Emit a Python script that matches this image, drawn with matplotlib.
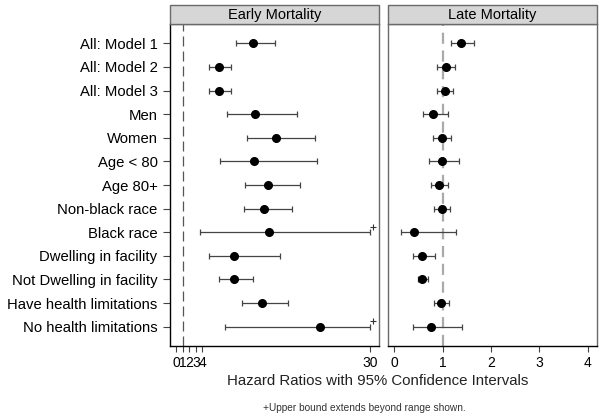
import matplotlib
matplotlib.use("Agg")
import matplotlib.pyplot as plt
from matplotlib.patches import Rectangle

plt.rcParams['font.family'] = ['Liberation Sans', 'DejaVu Sans']

labels = ["All: Model 1", "All: Model 2", "All: Model 3", "Men", "Women",
          "Age < 80", "Age 80+", "Non-black race", "Black race",
          "Dwelling in facility", "Not Dwelling in facility",
          "Have health limitations", "No health limitations"]

early_hr = [11.8, 6.6, 6.6, 12.1, 15.4, 12.0, 14.2, 13.6, 14.4, 8.9, 8.9, 13.2, 22.2]
early_lo = [9.2, 5.1, 5.0, 7.8, 11.0, 6.7, 10.6, 10.4, 3.6, 5.0, 6.6, 10.1, 7.6]
early_hi = [15.3, 8.4, 8.4, 18.7, 21.5, 21.8, 19.2, 17.9, 30.0, 16.1, 11.9, 17.3, 30.0]
early_trunc = [False, False, False, False, False, False, False, False, True,
               False, False, False, True]

late_hr = [1.38, 1.06, 1.04, 0.81, 0.98, 0.98, 0.92, 0.98, 0.40, 0.58, 0.58, 0.97, 0.75]
late_lo = [1.18, 0.89, 0.88, 0.60, 0.81, 0.72, 0.76, 0.82, 0.14, 0.39, 0.50, 0.82, 0.39]
late_hi = [1.64, 1.25, 1.21, 1.11, 1.17, 1.34, 1.12, 1.15, 1.27, 0.85, 0.69, 1.13, 1.40]

early_ticks = [0, 1, 2, 3, 4, 30]
late_ticks = [0, 1, 2, 3, 4]

W, H = 604, 418
fig = plt.figure(figsize=(W / 100, H / 100), dpi=100)

top_px, bot_px = 24, 346
axL = fig.add_axes([170 / W, 1 - bot_px / H, (379 - 170) / W, (bot_px - top_px) / H])
axR = fig.add_axes([388 / W, 1 - bot_px / H, (597 - 388) / W, (bot_px - top_px) / H])

n = len(labels)
ypos = list(range(n))
frame = '#6a6a6a'

def draw(ax, hr, lo, hi, title, xlim, ticks, ref_style):
    xerr = [[h - l for h, l in zip(hr, lo)], [u - h for h, u in zip(hr, hi)]]
    ax.axvline(1, **ref_style, zorder=1)
    ax.errorbar(hr, ypos, xerr=xerr, fmt='o', color='black', ms=5.5,
                ecolor='#444444', elinewidth=0.9, capsize=2.0, capthick=0.9, zorder=3)
    ax.set_xlim(*xlim)
    ax.set_ylim(n - 1 + 0.82, -0.82)
    ax.set_xticks(ticks)
    ax.set_xticklabels([str(t) for t in ticks], fontsize=10)
    for s in ['top', 'right', 'left']:
        ax.spines[s].set_color(frame)
        ax.spines[s].set_linewidth(1.0)
    ax.spines['bottom'].set_color('black')
    ax.spines['bottom'].set_linewidth(1.0)
    ax.tick_params(axis='x', length=4, width=0.8, color='#444444', pad=3)
    hdr_h = 19 / (bot_px - top_px)
    ax.add_patch(Rectangle((0, 1), 1, hdr_h, transform=ax.transAxes,
                           facecolor='#d6d6d6', edgecolor=frame, lw=1.0,
                           clip_on=False, zorder=5))
    ax.text(0.5, 1 + hdr_h / 2, title, transform=ax.transAxes, ha='center',
            va='center', fontsize=10.5, zorder=6)

draw(axL, early_hr, early_lo, early_hi, "Early Mortality", (-1.0, 31.4), early_ticks,
     dict(color='#555555', lw=0.9, ls=(0, (8, 4))))
draw(axR, late_hr, late_lo, late_hi, "Late Mortality", (-0.13, 4.19), late_ticks,
     dict(color='#aaaaaa', lw=1.6, ls=(0, (5, 3))))

axL.spines['left'].set_color('black')
axL.set_yticks(ypos)
axL.set_yticklabels(labels, fontsize=10.7)
axL.tick_params(axis='y', length=5, width=0.8, color='#444444', pad=4)
axR.set_yticks([])

for yi, u, t in zip(ypos, early_hi, early_trunc):
    if t:
        axL.plot([u + 0.5], [yi - 0.22], marker='+', color='#333333', ms=4.5, mew=0.8,
                 clip_on=False, zorder=4)

fig.text(378 / W, 1 - 381 / H, "Hazard Ratios with 95% Confidence Intervals",
         ha='center', va='center', fontsize=10.8, color='#222222')
fig.text(364 / W, 1 - 408 / H, "+Upper bound extends beyond range shown.",
         ha='center', va='center', fontsize=7.3, color='#333333')

fig.savefig("out.png", dpi=100)
